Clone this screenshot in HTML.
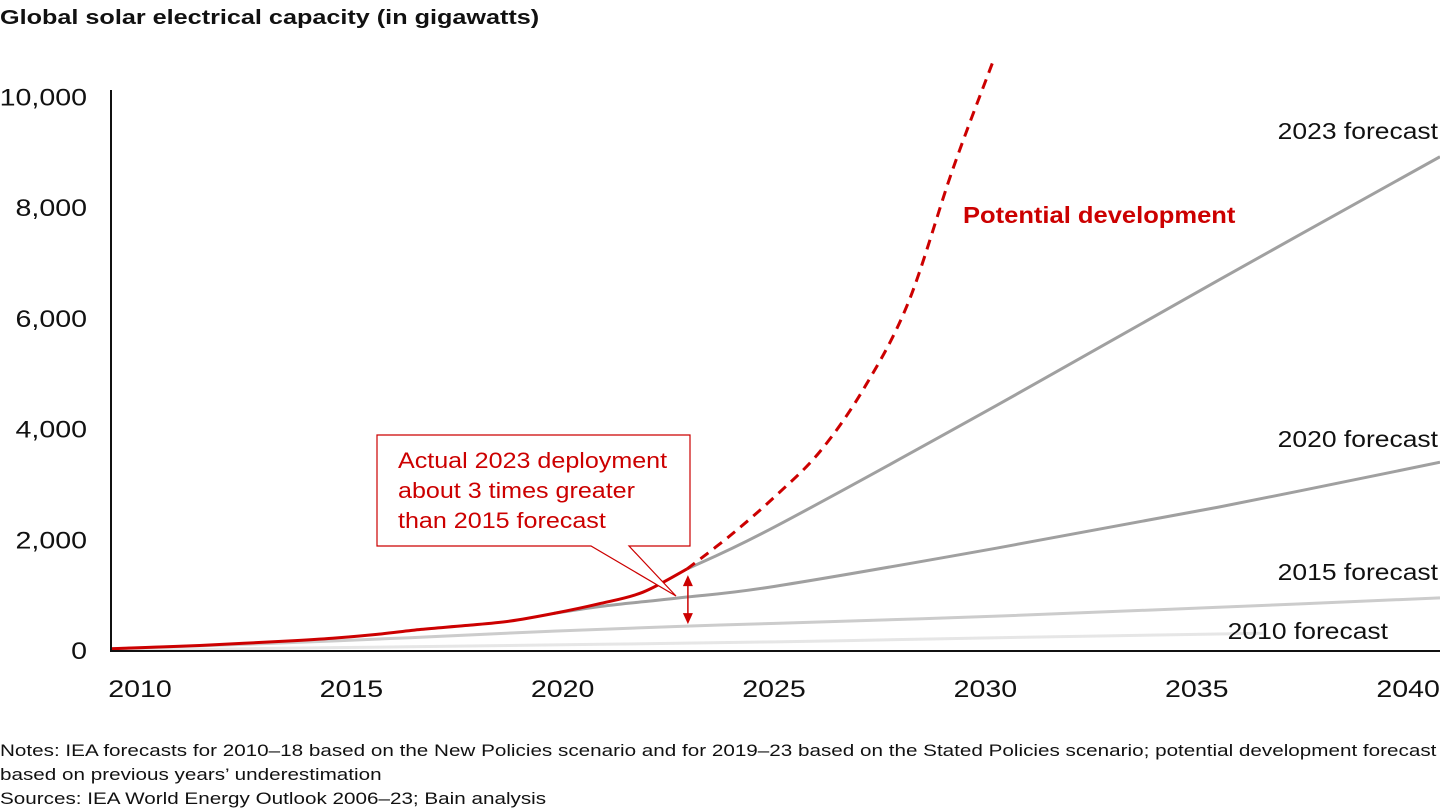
<!DOCTYPE html>
<html><head><meta charset="utf-8"><style>
body{margin:0;background:#fff;width:1440px;height:810px;overflow:hidden;font-family:"Liberation Sans",sans-serif}
svg{display:block}
</style></head><body>
<svg id="chart" width="1440" height="810">
<text x="0" y="24" font-size="20" font-weight="bold" fill="#111" data-sc="1.26">Global solar electrical capacity (in gigawatts)</text>
<g id="grid"></g>
<g id="series"></g>
<g id="callout">
<path d="M377,435 H690 V546 H629 L676,596 L591,546 H377 Z" fill="#fff" stroke="#cc0000" stroke-width="1.2"/>
<text font-size="22" fill="#cc0000"><tspan x="398" y="468" data-sc="1.14">Actual 2023 deployment</tspan><tspan x="398" y="498" data-sc="1.14">about 3 times greater</tspan><tspan x="398" y="528" data-sc="1.14">than 2015 forecast</tspan></text>
</g>
<g id="labels"></g>
<text font-size="17" fill="#111"><tspan x="0" y="756" data-sc="1.215">Notes: IEA forecasts for 2010–18 based on the New Policies scenario and for 2019–23 based on the Stated Policies scenario; potential development forecast</tspan><tspan x="0" y="780" data-sc="1.215">based on previous years’ underestimation</tspan><tspan x="0" y="804" data-sc="1.215">Sources: IEA World Energy Outlook 2006–23; Bain analysis</tspan></text>
</svg>
<script>
const yTicks=[0,2000,4000,6000,8000,10000];
const yTickLabels=["0","2,000","4,000","6,000","8,000","10,000"];
const xTicks=[2010,2015,2020,2025,2030,2035,2040];
const actualYears=[2010,2011,2012,2013,2014,2015,2016,2017,2018,2019,2020,2021,2022,2023];
const actualValues=[40,70,100,140,180,230,300,390,460,540,680,850,1060,1480];
const potentialYears=[2023,2024,2025,2026,2027,2028,2029,2029.9];
const potentialValues=[1480,2100,2800,3600,4750,6300,8700,10630];
const f2023Years=[2023,2025,2030,2035,2040];
const f2023Values=[1480,2250,4440,6700,8930];
const f2020Years=[2020,2021,2022,2023,2025,2030,2035,2040];
const f2020Values=[680,800,890,975,1170,1860,2600,3410];
const f2015Years=[2010,2015,2020,2023,2025,2030,2035,2040];
const f2015Values=[40,180,360,450,500,630,790,960];
const f2010Years=[2010,2015,2020,2025,2030,2036];
const f2010Values=[10,60,110,165,240,320];

const NS="http://www.w3.org/2000/svg";
const x=yr=>111+(yr-2010)*44.3;
const y=v=>651-v*0.05535;
const xl=yr=>140+(yr-2010)*42.27;
function mk(tag,attrs,parent){const e=document.createElementNS(NS,tag);for(const k in attrs)e.setAttribute(k,attrs[k]);parent.appendChild(e);return e;}
function smooth(xs,vs){const p=xs.map((t,i)=>[x(t),y(vs[i])]);let d="M"+p[0][0]+","+p[0][1];
for(let i=0;i<p.length-1;i++){const p0=p[i-1]||p[i],p1=p[i],p2=p[i+1],p3=p[i+2]||p2;
d+=" C"+(p1[0]+(p2[0]-p0[0])/6)+","+(p1[1]+(p2[1]-p0[1])/6)+" "+(p2[0]-(p3[0]-p1[0])/6)+","+(p2[1]-(p3[1]-p1[1])/6)+" "+p2[0]+","+p2[1];}return d;}
const grid=document.getElementById('grid');
yTicks.forEach((t,i)=>{const e=mk('text',{x:87,y:y(t)+8,'font-size':24,'text-anchor':'end',fill:'#111','data-sc':1.19},grid);e.textContent=yTickLabels[i];

});
xTicks.forEach(t=>{const e=mk('text',{x:xl(t),y:697,'font-size':24,'text-anchor':'middle',fill:'#111','data-sc':1.19},grid);e.textContent=t;

});
const s=document.getElementById('series');
const lines=[[f2010Years,f2010Values,'#e6e6e6','','forecast-2010-line'],[f2015Years,f2015Values,'#cccccc','','forecast-2015-line'],[f2020Years,f2020Values,'#a0a0a0','','forecast-2020-line'],[f2023Years,f2023Values,'#a0a0a0','','forecast-2023-line'],[potentialYears,potentialValues,'#cc0000','10 7','potential-development-line'],[actualYears,actualValues,'#cc0000','','actual-capacity-line']];
lines.forEach(l=>{const e=mk('path',{d:smooth(l[0],l[1]),fill:'none',stroke:l[2],'stroke-width':3,'stroke-dasharray':l[3]},s);

});
const ax=mk('path',{d:"M111,90 V651 H1440",fill:'none',stroke:'#111','stroke-width':2},s);


const arr=mk('g',{},s);


const ya=y(actualValues[actualValues.length-1])+6,yb=y(f2015Values[3])-2,xa=x(2023)+1;
mk('line',{x1:xa,y1:ya+8,x2:xa,y2:yb-8,stroke:'#cc0000','stroke-width':1.5},arr);
mk('path',{d:`M${xa-5},${ya+11} L${xa},${ya} L${xa+5},${ya+11}Z`,fill:'#cc0000'},arr);
mk('path',{d:`M${xa-5},${yb-11} L${xa},${yb} L${xa+5},${yb-11}Z`,fill:'#cc0000'},arr);
const lab=document.getElementById('labels');
[[1438,139,'2023 forecast','label-2023-forecast'],[1438,447,'2020 forecast','label-2020-forecast'],[1438,580,'2015 forecast','label-2015-forecast'],[1388,639,'2010 forecast','label-2010-forecast']].forEach(a=>{
const e=mk('text',{x:a[0],y:a[1],'font-size':23,'text-anchor':'end',fill:'#111','data-sc':1.15},lab);e.textContent=a[2];

});
const pd=mk('text',{x:963,y:223,'font-size':23,'font-weight':'bold',fill:'#cc0000','data-sc':1.11},lab);pd.textContent='Potential development';


document.querySelectorAll('[data-sc]').forEach(t=>{const w=t.getComputedTextLength();t.setAttribute('textLength',(w*parseFloat(t.getAttribute('data-sc'))).toFixed(1));t.setAttribute('lengthAdjust','spacingAndGlyphs');});
</script>
</body></html>
